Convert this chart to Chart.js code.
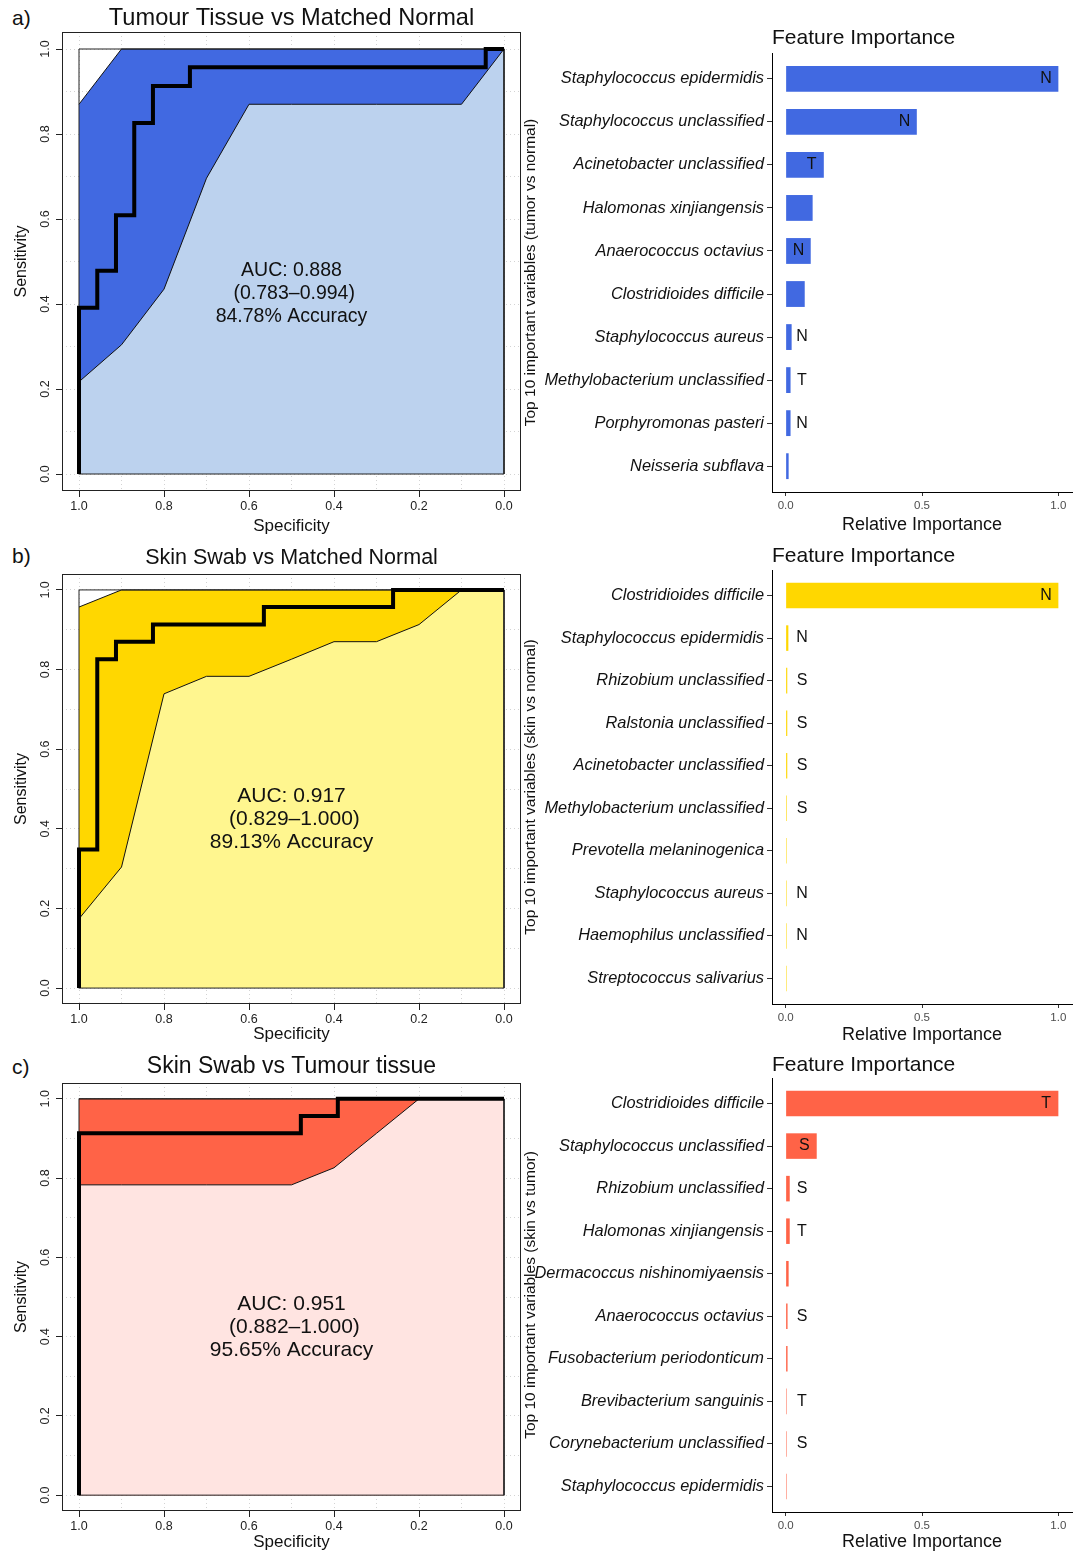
<!DOCTYPE html>
<html>
<head>
<meta charset="utf-8">
<script src="https://cdn.jsdelivr.net/npm/chart.js@4.4.1/dist/chart.umd.min.js"></script>
<style>
  body { margin: 0; background: #fff; }
  #fig { position: relative; width: 1085px; height: 1553px; font-family: 'Liberation Sans', Arial, sans-serif; }
  #fig canvas { position: absolute; }
  .tag { position: absolute; left: 12px; font-size: 21px; line-height: 22px; color: #111; }
</style>
</head>
<body>
<div id="fig">
  <div class="tag" style="top:7px">a)</div>
  <div class="tag" style="top:545px">b)</div>
  <div class="tag" style="top:1056px">c)</div>
  <canvas id="rocA" width="540" height="540" style="left:0;top:0"></canvas>
  <canvas id="barA" width="565" height="540" style="left:520px;top:0"></canvas>
  <canvas id="rocB" width="540" height="510" style="left:0;top:540px"></canvas>
  <canvas id="barB" width="565" height="510" style="left:520px;top:540px"></canvas>
  <canvas id="rocC" width="540" height="503" style="left:0;top:1050px"></canvas>
  <canvas id="barC" width="565" height="503" style="left:520px;top:1050px"></canvas>
</div>
<script>
// ---- ROC data (specificity, sensitivity) ----
const rocA_spec = [1, 1, 0.957, 0.957, 0.913, 0.913, 0.870, 0.870, 0.826, 0.826, 0.739, 0.739, 0.043, 0.043, 0];
const rocA_sens = [0, 0.391, 0.391, 0.478, 0.478, 0.609, 0.609, 0.826, 0.826, 0.913, 0.913, 0.957, 0.957, 1, 1];
const rocB_spec = [1, 1, 0.957, 0.957, 0.913, 0.913, 0.826, 0.826, 0.565, 0.565, 0.261, 0.261, 0];
const rocB_sens = [0, 0.348, 0.348, 0.826, 0.826, 0.870, 0.870, 0.913, 0.913, 0.957, 0.957, 1, 1];
const rocC_spec = [1, 1, 0.478, 0.478, 0.391, 0.391, 0];
const rocC_sens = [0, 0.913, 0.913, 0.957, 0.957, 1, 1];

// confidence band of sensitivity at fixed specificities
const ciSpec = [1, 0.9, 0.8, 0.7, 0.6, 0.5, 0.4, 0.3, 0.2, 0.1, 0];
const ciA_low = [0.217, 0.304, 0.435, 0.696, 0.870, 0.870, 0.870, 0.870, 0.870, 0.870, 1];
const ciA_up  = [0.870, 1, 1, 1, 1, 1, 1, 1, 1, 1, 1];
const ciB_low = [0.174, 0.304, 0.739, 0.783, 0.783, 0.826, 0.870, 0.870, 0.913, 1, 1];
const ciB_up  = [0.957, 1, 1, 1, 1, 1, 1, 1, 1, 1, 1];
const ciC_low = [0.783, 0.783, 0.783, 0.783, 0.783, 0.783, 0.826, 0.913, 1, 1, 1];
const ciC_up  = [1, 1, 1, 1, 1, 1, 1, 1, 1, 1, 1];

const squareSpec = [1, 1, 0, 0, 1];
const squareSens = [0, 1, 1, 0, 0];

const textA = ['AUC: 0.888', ' (0.783\u20130.994)', '84.78% Accuracy'];
const textB = ['AUC: 0.917', ' (0.829\u20131.000)', '89.13% Accuracy'];
const textC = ['AUC: 0.951', ' (0.882\u20131.000)', '95.65% Accuracy'];

const rocGrid = [0, 0.1, 0.2, 0.3, 0.4, 0.5, 0.6, 0.7, 0.8, 0.9, 1];
const rocLabelled = [0, 0.2, 0.4, 0.6, 0.8, 1];

// ---- feature importance ----
const featA = ['Staphylococcus epidermidis', 'Staphylococcus unclassified', 'Acinetobacter unclassified',
  'Halomonas xinjiangensis', 'Anaerococcus octavius', 'Clostridioides difficile', 'Staphylococcus aureus',
  'Methylobacterium unclassified', 'Porphyromonas pasteri', 'Neisseria subflava'];
const impA = [1.0, 0.481, 0.140, 0.099, 0.092, 0.070, 0.022, 0.018, 0.018, 0.011];
const tagA = ['N', 'N', 'T', '', 'N', '', 'N', 'T', 'N', ''];

const featB = ['Clostridioides difficile', 'Staphylococcus epidermidis', 'Rhizobium unclassified',
  'Ralstonia unclassified', 'Acinetobacter unclassified', 'Methylobacterium unclassified',
  'Prevotella melaninogenica', 'Staphylococcus aureus', 'Haemophilus unclassified', 'Streptococcus salivarius'];
const impB = [1.0, 0.010, 0.006, 0.006, 0.006, 0.004, 0.003, 0.003, 0.003, 0.002];
const tagB = ['N', 'N', 'S', 'S', 'S', 'S', '', 'N', 'N', ''];

const featC = ['Clostridioides difficile', 'Staphylococcus unclassified', 'Rhizobium unclassified',
  'Halomonas xinjiangensis', 'Dermacoccus nishinomiyaensis', 'Anaerococcus octavius',
  'Fusobacterium periodonticum', 'Brevibacterium sanguinis', 'Corynebacterium unclassified', 'Staphylococcus epidermidis'];
const impC = [1.0, 0.114, 0.015, 0.015, 0.011, 0.007, 0.007, 0.003, 0.003, 0.002];
const tagC = ['T', 'S', 'S', 'T', '', 'S', '', 'T', 'S', ''];

const impTicks = [0, 0.5, 1];

// ---- drawing ----
const FONT = "'Liberation Sans', Arial, sans-serif";
Chart.defaults.font.family = FONT;
Chart.defaults.color = '#111';

const pts = (xs, ys) => xs.map((x, i) => ({x: x, y: ys[i]}));
const near = (list, v) => list.some(t => Math.abs(t - v) < 1e-6);

function rocOverlay(lines, size) {
  return {
    id: 'rocOverlay',
    afterDatasetsDraw(chart) {
      const {ctx, chartArea: a, scales} = chart;
      ctx.save();
      ctx.strokeStyle = '#222';
      ctx.lineWidth = 1;
      ctx.strokeRect(a.left + 0.5, a.top + 0.5, a.width - 1, a.height - 1);
      ctx.font = size + 'px ' + FONT;
      ctx.fillStyle = '#111';
      ctx.textAlign = 'center';
      ctx.textBaseline = 'middle';
      const cx = scales.x.getPixelForValue(0.5);
      const cy = scales.y.getPixelForValue(0.425);
      lines.forEach((t, i) => ctx.fillText(t, cx, cy + (i - 1) * 23));
      ctx.restore();
    }
  };
}

function rocChart(id, L, title, titleSize, textSize, spec, sens, ciLow, ciUp, dark, light, lines) {
  const tickCol = c => (c.tick && near(rocLabelled, c.tick.value)) ? '#222' : 'rgba(0,0,0,0)';
  new Chart(document.getElementById(id), {
    type: 'line',
    data: {
      datasets: [
        {data: pts(spec, sens), borderColor: '#000', borderWidth: 4, fill: false, order: 0,
         borderJoinStyle: 'miter', borderCapStyle: 'butt'},
        {data: pts(squareSpec, squareSens), borderColor: '#222', borderWidth: 1, fill: false, order: 1},
        {data: pts(ciSpec, ciLow), borderColor: '#111', borderWidth: 1, backgroundColor: light, fill: 'origin', order: 2},
        {data: pts(ciSpec, ciUp), borderColor: '#111', borderWidth: 1, backgroundColor: dark, fill: 'origin', order: 3}
      ]
    },
    options: {
      responsive: false,
      animation: false,
      elements: {point: {radius: 0}, line: {tension: 0}},
      layout: {padding: {left: 0, right: 19, top: 0, bottom: 0}},
      plugins: {
        legend: {display: false},
        tooltip: {enabled: false},
        title: {
          display: true, text: title, fullSize: false, color: '#111',
          font: {size: titleSize, weight: 'normal', lineHeight: 1.2},
          padding: {top: L.titleY - L.top - titleSize * 0.6, bottom: L.areaTop - L.titleY - titleSize * 0.6}
        }
      },
      scales: {
        x: {
          type: 'linear', reverse: true, min: -0.04, max: 1.04,
          afterBuildTicks: s => { s.ticks = rocGrid.map(v => ({value: v})); },
          afterFit: s => { s.height = L.top + L.height - L.areaBottom; },
          ticks: {autoSkip: false, maxRotation: 0, padding: 2, color: '#222', font: {size: 12.5},
                  callback: v => near(rocLabelled, v) ? v.toFixed(1) : ''},
          grid: {color: '#d3d3d3', tickLength: 6, tickColor: tickCol, tickWidth: 1},
          border: {display: false, dash: [1, 3]},
          title: {display: true, text: 'Specificity', color: '#111', font: {size: 17},
                  padding: {top: 0, bottom: Math.max(0, L.top + L.height - L.xTitleY - 10.2)}}
        },
        y: {
          type: 'linear', min: -0.04, max: 1.04,
          afterBuildTicks: s => { s.ticks = rocGrid.map(v => ({value: v})); },
          afterFit: s => { s.width = 62; },
          ticks: {autoSkip: false, minRotation: 90, maxRotation: 90, crossAlign: 'center', padding: 2,
                  color: '#222', font: {size: 12.5},
                  callback: v => near(rocLabelled, v) ? v.toFixed(1) : ''},
          grid: {color: '#d3d3d3', tickLength: 6, tickColor: tickCol, tickWidth: 1},
          border: {display: false, dash: [1, 3]},
          title: {display: true, text: 'Sensitivity', color: '#111', font: {size: 16},
                  padding: {top: 12.4, bottom: 0}}
        }
      }
    },
    plugins: [rocOverlay(lines, textSize)]
  });
}

function tagLabels(values, tags) {
  return {
    id: 'tagLabels',
    afterDatasetsDraw(chart) {
      const {ctx, scales} = chart;
      ctx.save();
      ctx.font = '16px ' + FONT;
      ctx.fillStyle = '#111';
      ctx.textAlign = 'center';
      ctx.textBaseline = 'middle';
      tags.forEach((t, i) => {
        if (!t) return;
        const v = values[i];
        const at = v > 0.08 ? v - 0.045 : 0.06;
        ctx.fillText(t, scales.x.getPixelForValue(at), scales.y.getPixelForValue(i + 1));
      });
      ctx.restore();
    }
  };
}

function barChart(id, L, names, values, tags, color, yTitle) {
  new Chart(document.getElementById(id), {
    type: 'bar',
    data: {
      datasets: [{
        data: names.map((n, i) => ({x: values[i], y: i + 1})),
        backgroundColor: color, borderWidth: 0,
        barPercentage: 0.6, categoryPercentage: 1, minBarLength: 1
      }]
    },
    options: {
      indexAxis: 'y',
      responsive: false,
      animation: false,
      layout: {padding: {left: 0, right: 13, top: 0, bottom: 0}},
      plugins: {
        legend: {display: false},
        tooltip: {enabled: false},
        title: {
          display: true, text: 'Feature Importance', align: 'start', fullSize: false, color: '#111',
          font: {size: 21, weight: 'normal', lineHeight: 1.2},
          padding: {top: L.titleY - L.top - 12.6, bottom: Math.max(0, L.areaTop - L.titleY - 12.6)}
        }
      },
      scales: {
        x: {
          type: 'linear', min: -0.05, max: 1.05,
          afterBuildTicks: s => { s.ticks = impTicks.map(v => ({value: v})); },
          afterFit: s => { s.height = L.top + L.height - L.areaBottom; },
          ticks: {maxRotation: 0, padding: 3, color: '#4d4d4d', font: {size: 11.5}, callback: v => v.toFixed(1)},
          grid: {drawOnChartArea: false, tickLength: 4, tickColor: '#333'},
          border: {display: true, color: '#000', width: 1},
          title: {display: true, text: 'Relative Importance', color: '#111', font: {size: 18},
                  padding: {top: 0, bottom: Math.max(0, L.top + L.height - L.xTitleY - 10.8)}}
        },
        y: {
          type: 'linear', min: 0.4, max: 10.6, reverse: true, offset: false,
          afterBuildTicks: s => { s.ticks = names.map((n, i) => ({value: i + 1})); },
          afterFit: s => { s.width = 252; },
          ticks: {autoSkip: false, padding: 3, color: '#111', font: {size: 16.4, style: 'italic'},
                  callback: v => names[Math.round(v) - 1]},
          grid: {offset: false, drawOnChartArea: false, tickLength: 5, tickColor: '#333'},
          border: {display: true, color: '#000', width: 1},
          title: {display: true, text: yTitle, color: '#111', font: {size: 15.5},
                  padding: {top: 1.7, bottom: 0}}
        }
      }
    },
    plugins: [tagLabels(values, tags)]
  });
}

rocChart('rocA', {top: 0, height: 540, areaTop: 32, areaBottom: 491, titleY: 18, xTitleY: 526},
  'Tumour Tissue vs Matched Normal', 23.6, 19.5, rocA_spec, rocA_sens, ciA_low, ciA_up, '#4169E1', '#BCD2EE', textA);
rocChart('rocB', {top: 540, height: 510, areaTop: 574, areaBottom: 1004, titleY: 558, xTitleY: 1034},
  'Skin Swab vs Matched Normal', 21.5, 21, rocB_spec, rocB_sens, ciB_low, ciB_up, '#FFD700', '#FFF68F', textB);
rocChart('rocC', {top: 1050, height: 503, areaTop: 1083, areaBottom: 1511, titleY: 1067, xTitleY: 1543},
  'Skin Swab vs Tumour tissue', 23, 21, rocC_spec, rocC_sens, ciC_low, ciC_up, '#FF6347', '#FFE4E1', textC);

barChart('barA', {top: 0, height: 540, areaTop: 53, areaBottom: 492, titleY: 38, xTitleY: 525},
  featA, impA, tagA, '#4169E1', 'Top 10 important variables (tumor vs normal)');
barChart('barB', {top: 540, height: 510, areaTop: 570, areaBottom: 1004, titleY: 556, xTitleY: 1035},
  featB, impB, tagB, '#FFD700', 'Top 10 important variables (skin vs normal)');
barChart('barC', {top: 1050, height: 503, areaTop: 1078, areaBottom: 1512, titleY: 1065, xTitleY: 1543},
  featC, impC, tagC, '#FF6347', 'Top 10 important variables (skin vs tumor)');
</script>
</body>
</html>
